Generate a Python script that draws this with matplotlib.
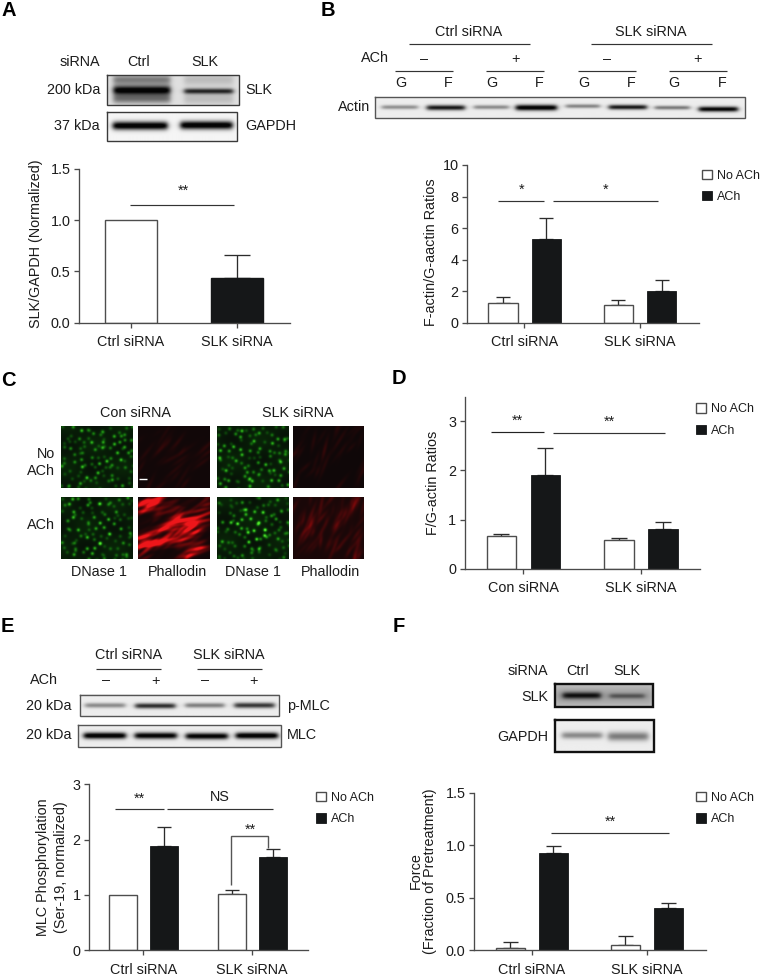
import numpy as np
import matplotlib
matplotlib.use("Agg")
import matplotlib.pyplot as plt
from matplotlib.colors import LinearSegmentedColormap

plt.rcParams['font.family'] = ['Liberation Sans', 'DejaVu Sans']
W, H = 762, 976
FS = 10.4
LEG_FS = 9.0
TXT = '#1c1c1c'
AX = '#4a4a4a'
BLK = '#151718'

# ---- chart values ----
legend_labels = ['No ACh', 'ACh']
groups_a = ['Ctrl siRNA', 'SLK siRNA']
vals_a = [1.0, 0.44]
tops_a = [None, 0.66]
groups_b = ['Ctrl siRNA', 'SLK siRNA']
noach_b = [1.25, 1.15]
noach_b_top = [1.6, 1.45]
ach_b = [5.3, 2.0]
ach_b_top = [6.65, 2.7]
groups_d = ['Con siRNA', 'SLK siRNA']
noach_d = [0.66, 0.58]
noach_d_top = [0.70, 0.62]
ach_d = [1.9, 0.81]
ach_d_top = [2.46, 0.95]
groups_e = ['Ctrl siRNA', 'SLK siRNA']
noach_e = [1.0, 1.01]
noach_e_top = [None, 1.08]
ach_e = [1.88, 1.68]
ach_e_top = [2.23, 1.82]
groups_f = ['Ctrl siRNA', 'SLK siRNA']
noach_f = [0.02, 0.05]
noach_f_top = [0.08, 0.13]
ach_f = [0.925, 0.40]
ach_f_top = [0.99, 0.445]

fig = plt.figure(figsize=(W / 100, H / 100), dpi=100, facecolor='white')
ov = fig.add_axes([0, 0, 1, 1], zorder=10)
ov.set_xlim(0, W)
ov.set_ylim(H, 0)
ov.axis('off')
ov.patch.set_alpha(0)
ov.set_autoscale_on(False)


def T(x, y, s, ha='center', va='center', **kw):
    kw.setdefault('fontsize', FS)
    kw.setdefault('color', TXT)
    ov.text(x, y, s, ha=ha, va=va, **kw)


def L(xs, ys, color='#333333', lw=0.85):
    ov.plot(xs, ys, color=color, lw=lw, solid_capstyle='butt', solid_joinstyle='miter')


def make_axes(left, right, y0, ytop, ymax, yticks, yticklabels, c0, c1, names):
    ax = fig.add_axes([left / W, 1 - y0 / H, (right - left) / W, (y0 - ytop) / H])
    s = c1 - c0
    ax.set_xlim((left - c0) / s, (right - c0) / s)
    ax.set_ylim(0, ymax)
    for k in ('top', 'right'):
        ax.spines[k].set_visible(False)
    for k in ('left', 'bottom'):
        ax.spines[k].set_color(AX)
        ax.spines[k].set_linewidth(0.95)
    ax.set_yticks(yticks, yticklabels)
    ax.set_xticks([0, 1], names)
    ax.tick_params(axis='y', length=3.6, width=0.95, color=AX, labelsize=FS, labelcolor=TXT, pad=2.5)
    ax.tick_params(axis='x', length=3.6, width=0.95, color=AX, labelsize=FS, labelcolor=TXT, pad=5.6)
    ax.patch.set_alpha(0)
    return ax, s


def err(ax, xs, vals, tops, cap_px):
    for x, v, t in zip(xs, vals, tops):
        if t is not None:
            ax.errorbar([x], [v], yerr=[[0], [t - v]], color='#2c2c2c', elinewidth=0.95,
                        capsize=cap_px / 2 * 0.72, capthick=0.95, zorder=1.5, ls='none')


def grouped(ax, s, off_w, off_b, bw, noach, noach_top, ach, ach_top, cap_px):
    xw = np.array([0, 1]) + off_w / s
    xb = np.array([0, 1]) + off_b / s
    err(ax, xw, noach, noach_top, cap_px)
    err(ax, xb, ach, ach_top, cap_px)
    ax.bar(xw, noach, bw / s, color='white', edgecolor='#4d4d4d', lw=1.0, label=legend_labels[0], zorder=2)
    ax.bar(xb, ach, bw / s, color=BLK, edgecolor=BLK, lw=0.6, label=legend_labels[1], zorder=2)


def add_legend(ax, x, y):
    leg = ax.legend(loc='upper left', bbox_to_anchor=(x, y), bbox_transform=ov.transData,
                    frameon=False, fontsize=LEG_FS, borderpad=0, borderaxespad=0,
                    handlelength=0.78, handleheight=0.78, handletextpad=0.42, labelspacing=0.76,
                    labelcolor=TXT)
    return leg


def ylabel(ax, x, y, s, **kw):
    ax.set_ylabel(s, fontsize=FS, color=TXT, va='center', ha='center', **kw)
    ax.yaxis.set_label_coords(x, y, transform=ov.transData)


def smooth(v, a, b, e):
    return 0.5 * (np.tanh((v - a) / e) - np.tanh((v - b) / e))


grey = LinearSegmentedColormap.from_list('g', ['#000000', '#ffffff'])


def blot(x0, x1, y0, y1, bands, bg=0.91, edge='#3a3a3a', lw=1.0):
    w, h = int((x1 - x0) * 3), int((y1 - y0) * 3)
    xx, yy = np.meshgrid(np.linspace(x0, x1, w), np.linspace(y0, y1, h))
    dark = np.zeros_like(xx)
    for a, b, yc, t, d in bands:
        dark += d * smooth(xx, a, b, 3.0) * np.exp(-((yy - yc) / t) ** 2)
    img = bg * np.clip(1 - dark, 0.02, 1)
    ov.imshow(img, cmap=grey, vmin=0, vmax=1, extent=(x0, x1, y1, y0), aspect='auto',
              interpolation='bilinear', zorder=1)
    ov.plot([x0, x1, x1, x0, x0], [y0, y0, y1, y1, y0], color=edge, lw=lw, zorder=2,
            solid_joinstyle='miter')


def frac(v):
    return v - np.floor(v)


def hsh(i, j, seed):
    return frac(np.sin(i * 12.9898 + j * 78.233 + seed * 37.719) * 43758.5453)


def micro_green(x0, x1, y0, y1, seed, gain, hot=None):
    w, h = int((x1 - x0) * 2), int((y1 - y0) * 2)
    xx, yy = np.meshgrid(np.linspace(0, x1 - x0, w), np.linspace(0, y1 - y0, h))
    g = np.zeros_like(xx)
    step = 7.0
    for i in range(11):
        for j in range(10):
            cx = (i + hsh(i, j, seed)) * step
            cy = (j + hsh(i, j, seed + 1)) * step * 0.95
            amp = 0.22 + 0.6 * hsh(i, j, seed + 2) ** 2
            if hot is not None:
                amp *= 0.6 + 1.2 * np.exp(-(((cx - hot[0]) / 22) ** 2 + ((cy - hot[1]) / 16) ** 2))
            g += amp * np.exp(-(((xx - cx) ** 2 + (yy - cy) ** 2) / 2.8))
    haze = 0.05 + 0.04 * np.sin(xx / 9 + seed) * np.sin(yy / 7 + 2 * seed)
    g = np.clip(g * gain + haze, 0, 1)
    img = np.dstack([0.03 + 0.3 * g ** 2, 0.06 + 0.85 * g, 0.03 + 0.15 * g ** 2])
    ov.imshow(img, extent=(x0, x1, y1, y0), aspect='auto', interpolation='bilinear', zorder=1)


def micro_red(x0, x1, y0, y1, seed, n, gain, angle, base, patches=False):
    w, h = int((x1 - x0) * 2), int((y1 - y0) * 2)
    xx, yy = np.meshgrid(np.linspace(0, x1 - x0, w), np.linspace(0, y1 - y0, h))
    r = np.zeros_like(xx)
    th = np.deg2rad(angle)
    for k in range(n):
        cx = hsh(k, 1, seed) * (x1 - x0)
        cy = hsh(k, 2, seed) * (y1 - y0)
        a = th + (hsh(k, 3, seed) - 0.5) * 0.7
        u = (xx - cx) * np.cos(a) - (yy - cy) * np.sin(a)
        v = (xx - cx) * np.sin(a) + (yy - cy) * np.cos(a)
        r += (0.2 + 0.8 * hsh(k, 4, seed)) * np.exp(-(u / (5 + 9 * hsh(k, 5, seed))) ** 2 - (v / 1.8) ** 2)
    if patches:
        m = np.sin((xx * np.sin(th) + yy * np.cos(th)) / 6.5 + 1.0) + 0.5 * np.sin(xx / 11 - yy / 15)
        r *= np.clip(0.7 + 0.6 * m, 0.05, 1)
    r = np.clip(r * gain, 0, 1)
    img = np.dstack([base + 0.86 * r, 0.03 + 0.06 * r ** 3, 0.035 + 0.07 * r ** 3])
    ov.imshow(img, extent=(x0, x1, y1, y0), aspect='auto', interpolation='bilinear', zorder=1)


# ---- panel letters ----
for s, x, y in [('A', 1, 11), ('B', 321, 11), ('C', 1, 380), ('D', 392, 378), ('E', 1, 626), ('F', 393, 626)]:
    T(x, y, s, ha='left', fontweight='bold', fontsize=14.5, color='black')

# ---- A ----
blot(106.7, 238.7, 75.3, 105.3,
     [(113, 170, 90.5, 4.6, 1.05), (113, 170, 99, 5, 0.5), (113, 170, 80, 5, 0.45),
      (184, 233, 91.5, 2.8, 0.82), (184, 233, 99, 6, 0.16), (184, 233, 80, 6, 0.16)], bg=0.88)
blot(106.7, 237.3, 112.3, 141.3, [(112.5, 167, 126, 4.2, 1.1), (180, 232, 125.5, 4.2, 1.1)], bg=0.96)
T(100, 62.3, 'siRNA', ha='right')
T(138.3, 62.3, 'Ctrl')
T(205, 62.3, 'SLK')
T(100, 90, '200 kDa', ha='right')
T(100, 126.5, '37 kDa', ha='right')
T(245, 90, 'SLK', ha='left')
T(245, 126, 'GAPDH', ha='left')

ax, s = make_axes(79, 290, 322.7, 168.7, 1.5, [0, 0.5, 1, 1.5], ['0.0', '0.5', '1.0', '1.5'], 131, 237, groups_a)
err(ax, [0, 1], vals_a, tops_a, 26)
ax.bar([0, 1], vals_a, 52 / s, color=['white', BLK], edgecolor=['#4d4d4d', BLK], lw=1.0, zorder=2)
ylabel(ax, 35.7, 243.8, 'SLK/GAPDH (Normalized)')
L([130, 234], [204.7, 204.7])
T(183.5, 190.5, '**')

# ---- B ----
T(469, 31.7, 'Ctrl siRNA')
T(651.3, 31.7, 'SLK siRNA')
L([408.7, 530], [44.3, 44.3])
L([590.7, 712.3], [44.3, 44.3])
T(375, 57.7, 'ACh')
for x, m in zip([424.3, 515, 607, 697.3], ['–', '+', '–', '+']):
    T(x, 58.7, m)
for a, b in [(395.3, 453), (486, 544), (578, 636), (669, 727)]:
    L([a, b], [70.7, 70.7])
for xg, xf in [(400.7, 448.3), (491.7, 539.3), (583.7, 631.3), (674.3, 722)]:
    T(xg, 82.7, 'G')
    T(xf, 82.7, 'F')
T(354, 107.3, 'Actin')
blot(375.3, 745, 97, 117.7,
     [(382, 418, 107, 2.1, 0.4), (427, 465, 107.5, 2.6, 0.92), (474, 509, 107, 2.1, 0.42), (516, 557, 107.5, 2.9, 1.08),
      (566, 600, 106, 2, 0.45), (609, 647, 107, 2.4, 0.92), (655, 690, 107.5, 2, 0.5), (699, 738, 109, 2.6, 1.02)],
     bg=0.93, edge='#555555')
ax, s = make_axes(467, 698.7, 322.7, 165, 10, [0, 2, 4, 6, 8, 10], ['0', '2', '4', '6', '8', '10'], 524.3, 639.7, groups_b)
grouped(ax, s, -21.3, 22, 29.4, noach_b, noach_b_top, ach_b, ach_b_top, 14.3)
ylabel(ax, 431.3, 252.5, 'F-actin/G-aactin Ratios')
add_legend(ax, 702, 169.5)
L([497.7, 544], [201.3, 201.3])
L([553.3, 657.7], [201.3, 201.3])
T(521.7, 189.5, '*')
T(605.3, 189.5, '*')

# ---- C ----
cols = [(61, 133), (138, 209.3), (217.3, 289), (293.3, 364.3)]
rows = [(426.3, 488), (497.3, 559.3)]
micro_green(*cols[0], *rows[0], 1, 1.0)
micro_red(*cols[1], *rows[0], 2, 30, 0.1, 50, 0.07)
micro_green(*cols[2], *rows[0], 3, 0.95)
micro_red(*cols[3], *rows[0], 4, 30, 0.11, 60, 0.06)
micro_green(*cols[0], *rows[1], 5, 0.95)
micro_red(*cols[1], *rows[1], 6, 130, 0.72, 25, 0.07, patches=True)
micro_green(*cols[2], *rows[1], 7, 1.2, hot=(38, 32))
micro_red(*cols[3], *rows[1], 8, 60, 0.2, 65, 0.1)
L([139, 147.3], [479, 479], color='white', lw=1.0)
T(135, 413.3, 'Con siRNA')
T(298, 413.3, 'SLK siRNA')
T(55.3, 454, 'No', ha='right')
T(55.3, 471, 'ACh', ha='right')
T(55.3, 525, 'ACh', ha='right')
for x, t in zip([99.3, 177.7, 252.7, 331], ['DNase 1', 'Phallodin', 'DNase 1', 'Phallodin']):
    T(x, 572.5, t)

# ---- D ----
ax, s = make_axes(464.7, 700, 568.7, 396.7, 3.5, [0, 1, 2, 3], ['0', '1', '2', '3'], 523.3, 640.7, groups_d)
grouped(ax, s, -21.8, 22, 29.6, noach_d, noach_d_top, ach_d, ach_d_top, 16.5)
ylabel(ax, 433.3, 482.8, 'F/G-actin Ratios')
add_legend(ax, 696.3, 403.2)
L([491.3, 544.3], [432.3, 432.3], color='#222222')
L([553, 665], [433.3, 433.3])
T(517.7, 421, '**')
T(609, 422, '**')

# ---- E ----
T(128.3, 655.3, 'Ctrl siRNA')
T(228.7, 655.3, 'SLK siRNA')
L([96.3, 161.3], [668.7, 668.7])
L([196.7, 261.7], [668.7, 668.7])
T(44.3, 679.7, 'ACh')
for x, m in zip([106, 155.3, 205, 254], ['–', '+', '–', '+']):
    T(x, 680.5, m)
blot(80, 279.3, 695, 716.3,
     [(85, 125, 706, 2.4, 0.42), (135, 175, 706.5, 2.6, 0.82), (185, 224, 706, 2.4, 0.47), (234, 274, 706, 2.7, 0.78)],
     bg=0.93, edge='#555555')
blot(78.3, 281, 725, 746.7,
     [(84, 126, 735.5, 3.2, 1.1), (135, 177, 735.5, 3.2, 1.05), (186, 228, 736, 3.2, 1.05), (236, 278, 735.5, 3.2, 1.1)],
     bg=0.93, edge='#555555')
T(72, 706, '20 kDa', ha='right')
T(72, 735.3, '20 kDa', ha='right')
T(286.7, 706, 'p-MLC', ha='left')
T(286.7, 735.3, 'MLC', ha='left')
ax, s = make_axes(89, 307.7, 950, 784.3, 3, [0, 1, 2, 3], ['0', '1', '2', '3'], 143.3, 252.3, groups_e)
grouped(ax, s, -20, 20.5, 27.7, noach_e, noach_e_top, ach_e, ach_e_top, 14)
ylabel(ax, 51.7, 867.5, 'MLC Phosphorylation\n(Ser-19, normalized)', linespacing=1.4)
add_legend(ax, 316, 791.8)
L([115.3, 164], [809.3, 809.3])
L([167.3, 272.7], [809.3, 809.3])
T(139.7, 799, '**')
T(220, 796.7, 'NS')
L([230.7, 230.7, 268.3, 268.3], [885, 835.7, 835.7, 848.3], color='#555555', lw=1.0)
T(250.7, 829.5, '**')

# ---- F ----
T(547.7, 670.7, 'siRNA', ha='right')
T(577.3, 670.7, 'Ctrl')
T(627, 670.7, 'SLK')
T(548.7, 696.7, 'SLK', ha='right')
T(548.7, 737.3, 'GAPDH', ha='right')
blot(555.3, 653.3, 684, 707,
     [(563, 601, 695.5, 3.4, 0.72), (610, 645, 696, 2.6, 0.38), (555, 653, 696, 11, 0.22)], bg=0.8, edge='#111111', lw=1.7)
blot(555, 653.7, 720, 752.3,
     [(562, 602, 736, 3.4, 0.42), (608, 648, 737, 4.4, 0.48)], bg=0.93, edge='#111111', lw=1.7)
ax, s = make_axes(474, 705.7, 950, 792.7, 1.5, [0, 0.5, 1, 1.5], ['0.0', '0.5', '1.0', '1.5'], 532, 647, groups_f)
grouped(ax, s, -21.6, 21.4, 29.6, noach_f, noach_f_top, ach_f, ach_f_top, 15)
ylabel(ax, 423, 871, 'Force\n(Fraction of Pretreatment)', linespacing=1.05)
add_legend(ax, 696.3, 791.8)
L([551, 669.3], [833.3, 833.3])
T(610, 822, '**')

fig.savefig('out.png', dpi=100, facecolor='white')
